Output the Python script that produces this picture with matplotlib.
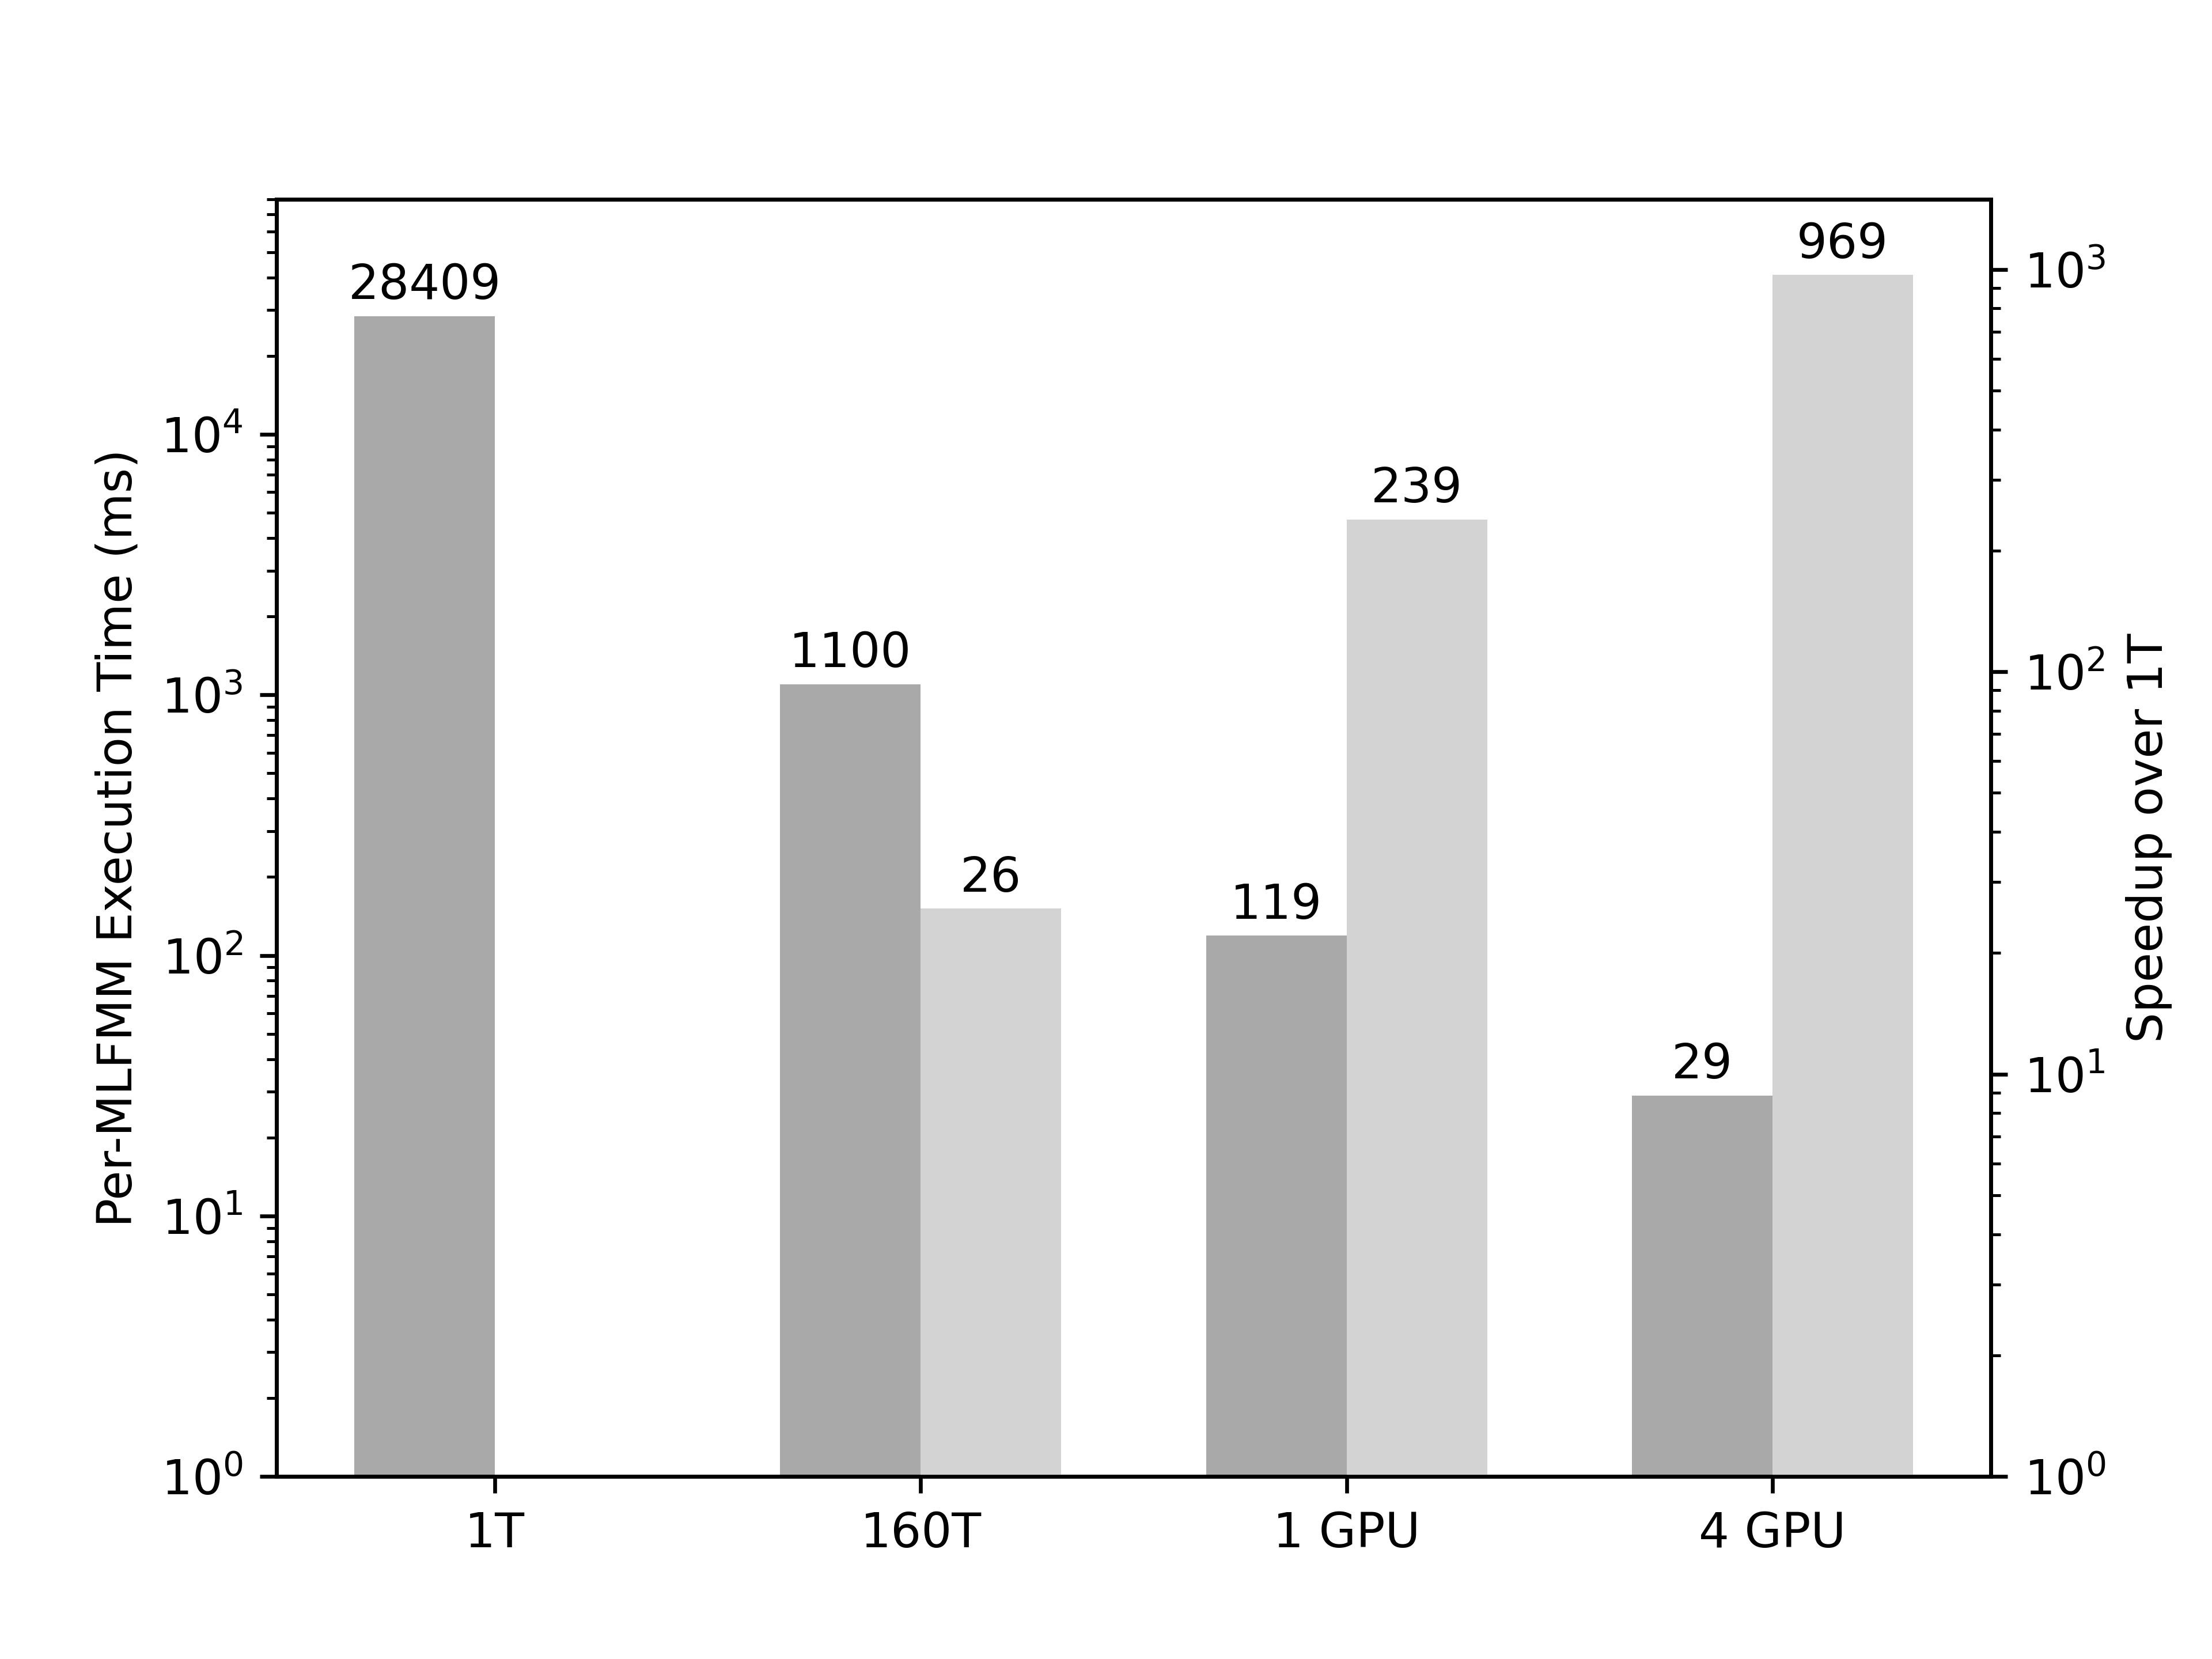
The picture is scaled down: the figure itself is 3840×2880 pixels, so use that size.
import numpy as np
import matplotlib
matplotlib.use("Agg")
import matplotlib.pyplot as plt

configs = ["1T", "160T", "1 GPU", "4 GPU"]
exec_time = [28409, 1100, 119, 29]
speedup_cfg = ["160T", "1 GPU", "4 GPU"]
speedup = [25.8, 239, 969]
speedup_labels = ["26", "239", "969"]

w = 0.33
x = np.arange(len(configs))

fig = plt.figure(figsize=(6.4, 4.8), dpi=600)
ax = fig.add_subplot(1, 1, 1)
ax2 = ax.twinx()

bars1 = ax.bar(x - w, exec_time, w, align="edge", color="darkgray")
xs = np.array([configs.index(c) for c in speedup_cfg])
bars2 = ax2.bar(xs, speedup, w, align="edge", color="lightgray")

ax.set_yscale("log")
ax2.set_yscale("log")
ax.set_ylim(1, 8.0e4)
ax2.set_ylim(1, 1495)

for b, v in zip(bars1, exec_time):
    ax.annotate(str(v), (b.get_x() + b.get_width() / 2, b.get_height()),
                xytext=(0, 1.5), textcoords="offset points", ha="center", va="bottom")
for b, s in zip(bars2, speedup_labels):
    ax2.annotate(s, (b.get_x() + b.get_width() / 2, b.get_height()),
                 xytext=(0, 1.5), textcoords="offset points", ha="center", va="bottom")

ax.set_xticks(x)
ax.set_xticklabels(configs)
ax.set_ylabel("Per-MLFMM Execution Time (ms)")
ax2.set_ylabel("Speedup over 1T")

fig.savefig("out.png", dpi=600)
